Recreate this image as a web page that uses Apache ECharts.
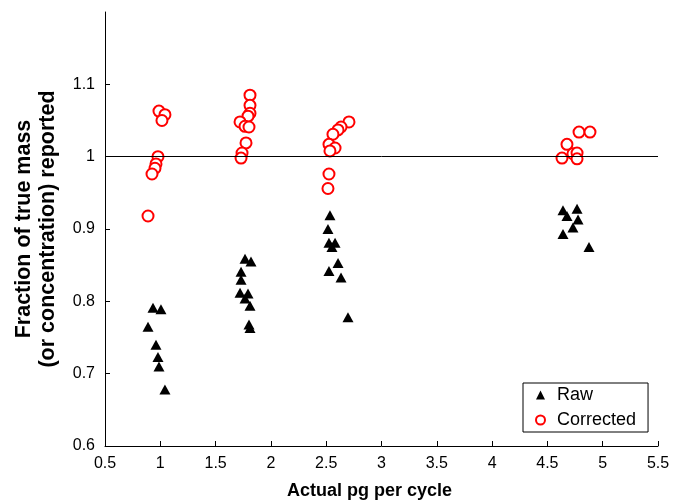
<!DOCTYPE html>
<html>
<head>
<meta charset="utf-8">
<title>Fraction of true mass</title>
<script src="https://cdn.jsdelivr.net/npm/echarts@6/dist/echarts.min.js"></script>
<style>
  html, body { margin: 0; padding: 0; background: #fff; }
  #chart { width: 674px; height: 502px; }
</style>
</head>
<body>
<div id="chart"></div>
<script>
// 原始数据 Raw (三角)
var rawX = [0.934, 1.006, 0.889, 0.961, 0.979, 0.988, 1.042,
  1.766, 1.820, 1.730, 1.730, 1.721, 1.793, 1.766, 1.811, 1.802, 1.811,
  2.534, 2.516, 2.525, 2.580, 2.552, 2.607, 2.525, 2.634, 2.697,
  4.641, 4.768, 4.677, 4.777, 4.731, 4.641, 4.876];
var rawY = [0.791, 0.789, 0.765, 0.740, 0.723, 0.710, 0.678,
  0.859, 0.855, 0.841, 0.830, 0.812, 0.811, 0.804, 0.794, 0.768, 0.763,
  0.919, 0.900, 0.881, 0.881, 0.875, 0.853, 0.842, 0.833, 0.778,
  0.926, 0.928, 0.918, 0.913, 0.902, 0.893, 0.875];
// 校正后 Corrected (空心圆)
var corrX = [0.988, 1.042, 1.015, 0.979, 0.961, 0.952, 0.925, 0.889,
  1.811, 1.811, 1.811, 1.793, 1.721, 1.766, 1.802, 1.775, 1.739, 1.730,
  2.706, 2.634, 2.607, 2.561, 2.525, 2.580, 2.534, 2.525, 2.516,
  4.632, 4.677, 4.731, 4.768, 4.768, 4.786, 4.885];
var corrY = [1.063, 1.058, 1.050, 1.000, 0.990, 0.984, 0.976, 0.918,
  1.085, 1.071, 1.060, 1.056, 1.048, 1.042, 1.041, 1.019, 1.005, 0.998,
  1.048, 1.041, 1.037, 1.031, 1.017, 1.012, 1.008, 0.976, 0.956,
  0.998, 1.017, 1.004, 1.005, 0.997, 1.034, 1.034];
// 参考线
var refLine = 1;

function pairs(xs, ys) {
  var out = [];
  for (var i = 0; i < xs.length; i++) {
    out.push([xs[i], ys[i]]);
  }
  return out;
}

var font = "Liberation Sans, Arial, sans-serif";
var chart = echarts.init(document.getElementById("chart"));
var option = {
  animation: false,
  backgroundColor: "#fff",
  textStyle: { fontFamily: font },
  // 固定绘图区，不让坐标轴名字挤压
  grid: { left: 105, right: 16, top: 12, bottom: 56, outerBoundsMode: "none" },
  legend: {
    orient: "vertical",
    left: 523,
    top: 383,
    padding: [3, 12, 3, 12],
    itemGap: 7,
    itemWidth: 9,
    itemHeight: 9,
    borderColor: "#000",
    borderWidth: 1,
    backgroundColor: "#fff",
    textStyle: { fontFamily: font, fontSize: 18, color: "#000", padding: [0, 0, 0, 7] },
    data: ["Raw", "Corrected"]
  },
  xAxis: {
    type: "value",
    min: 0.5,
    max: 5.5,
    interval: 0.5,
    name: "Actual pg per cycle",
    nameLocation: "middle",
    nameGap: 36,
    nameTextStyle: {
      fontFamily: font, fontSize: 18, fontWeight: "bold", color: "#000",
      padding: [0, 24, 0, 0]
    },
    axisLine: { onZero: false, lineStyle: { color: "#000", width: 1 } },
    axisTick: { inside: true, length: 5, lineStyle: { color: "#000" } },
    axisLabel: { fontFamily: font, fontSize: 16, color: "#000", margin: 10 },
    splitLine: { show: false }
  },
  yAxis: {
    type: "value",
    min: 0.6,
    max: 1.2,
    interval: 0.1,
    name: "Fraction of true mass\n(or concentration) reported",
    nameLocation: "middle",
    nameGap: 45,
    nameTextStyle: { fontFamily: font, fontSize: 21.5, fontWeight: "bold", color: "#000", lineHeight: 24 },
    axisLine: { onZero: false, lineStyle: { color: "#000", width: 1 } },
    axisTick: { inside: true, length: 5, lineStyle: { color: "#000" } },
    axisLabel: {
      fontFamily: font, fontSize: 16, color: "#000", margin: 10,
      showMaxLabel: false
    },
    splitLine: { show: false }
  },
  series: [
    {
      name: "Raw",
      type: "scatter",
      symbol: "triangle",
      symbolSize: [11, 10],
      itemStyle: { color: "#000", opacity: 1 },
      data: pairs(rawX, rawY),
      z: 3
    },
    {
      name: "Corrected",
      type: "scatter",
      symbol: "emptyCircle",
      symbolSize: 11,
      itemStyle: { color: "#ff0000", borderColor: "#ff0000", borderWidth: 1.5, opacity: 1 },
      data: pairs(corrX, corrY),
      markLine: {
        silent: true,
        symbol: "none",
        label: { show: false },
        lineStyle: { color: "#000", width: 1, type: "solid" },
        data: [{ yAxis: refLine }]
      },
      z: 4
    }
  ]
};
chart.setOption(option);
</script>
</body>
</html>
